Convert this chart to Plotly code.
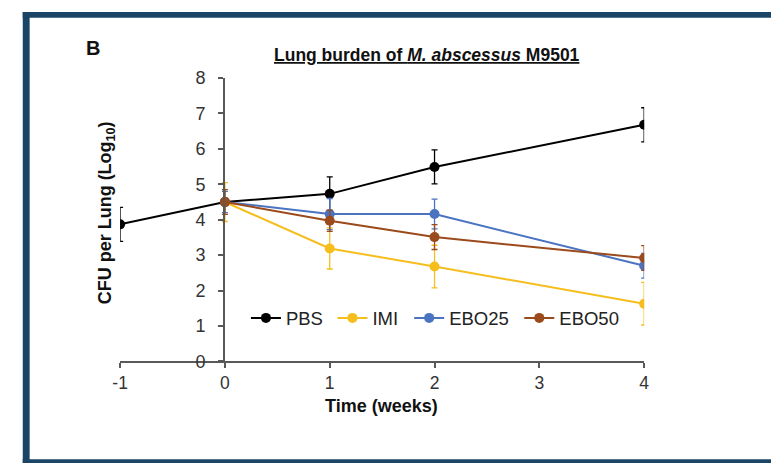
import plotly.graph_objects as go

# Lung CFU (log10) over time per treatment group
weeks_pbs = [-1, 0, 1, 2, 4]
pbs = [3.87, 4.50, 4.73, 5.49, 6.68]
pbs_err = [0.48, 0.10, 0.48, 0.48, 0.48]

weeks = [0, 1, 2, 4]
imi = [4.50, 3.19, 2.68, 1.63]
imi_err = [0.55, 0.58, 0.60, 0.60]

ebo25 = [4.50, 4.16, 4.16, 2.70]
ebo25_err = [0.30, 0.44, 0.42, 0.35]

ebo50 = [4.50, 3.97, 3.51, 2.92]
ebo50_err = [0.35, 0.30, 0.35, 0.35]

x_ticks = [-1, 0, 1, 2, 3, 4]
x_labels = ["-1", "0", "1", "2", "3", "4"]
y_ticks = [0, 1, 2, 3, 4, 5, 6, 7, 8]

W, H = 776, 473
FONT = "Arial, Liberation Sans, sans-serif"


def px(x):
    return x / W


def py(y):
    return 1 - y / H


# name, x, y, error, colour, legend id, legend left edge (px)
series = [
    ("PBS", weeks_pbs, pbs, pbs_err, "#000000", "legend", 242),
    ("IMI", weeks, imi, imi_err, "#F5BE1C", "legend2", 330),
    ("EBO25", weeks, ebo25, ebo25_err, "#4A74C2", "legend3", 408),
    ("EBO50", weeks, ebo50, ebo50_err, "#9B4A1C", "legend4", 520),
]

fig = go.Figure()
legend_layout = {}
for name, xs, ys, errs, color, leg, lx in series:
    fig.add_trace(go.Scatter(
        x=xs, y=ys, name=name, mode="lines+markers", legend=leg,
        line=dict(color=color, width=2),
        marker=dict(color=color, size=10),
        error_y=dict(type="data", array=errs, visible=True,
                     color=color, thickness=1.3, width=3),
    ))
    legend_layout[leg] = dict(
        orientation="h", x=px(lx), y=py(322), xanchor="left",
        yanchor="middle", font=dict(size=18.5, color="#222222"),
        bgcolor="rgba(0,0,0,0)", itemwidth=30,
    )

fig.update_layout(
    width=W, height=H,
    margin=dict(l=0, r=0, t=0, b=0),
    paper_bgcolor="white", plot_bgcolor="white",
    font=dict(family=FONT, size=18, color="#333333"),
    showlegend=True,
    xaxis=dict(domain=[px(114), px(647)], range=[-1, 4],
               tickvals=x_ticks, ticktext=x_labels, ticks="outside",
               ticklen=5, tickwidth=1.5,
               tickcolor="#595959", showline=True, linecolor="#595959",
               linewidth=1.5, showgrid=False, zeroline=False,
               tickfont=dict(size=17.5, color="#333333"), anchor="y"),
    yaxis=dict(domain=[py(367), py(71)], range=[0, 8],
               tickvals=y_ticks, ticks="outside", ticklen=5, tickwidth=1.5,
               ticklabelstandoff=9,
               tickcolor="#595959", showline=True, linecolor="#595959",
               linewidth=1.5, showgrid=False, zeroline=False,
               tickfont=dict(size=18, color="#333333"),
               anchor="free", position=px(219.5)),
    **legend_layout,
)

annotations = [
    dict(text="<b><u>Lung burden of <i>M. abscessus</i> M9501</u></b>",
         x=px(426), y=py(47), font=dict(size=17.5, color="#111111")),
    dict(text="<b>B</b>", x=px(86), y=py(40), font=dict(size=20, color="#111111")),
    dict(text="<b>Time (weeks)</b>", x=px(380), y=py(414),
         font=dict(size=18, color="#111111")),
    dict(text="<b>CFU per Lung (Log<sub>10</sub>)</b>", x=px(100), y=py(212),
         textangle=-90, font=dict(size=18, color="#111111")),
]
for a in annotations:
    fig.add_annotation(xref="paper", yref="paper", showarrow=False,
                       xanchor="center", yanchor="middle", **a)

# dark frame along the left, top and bottom edges
frame = "#1B4566"
for x0, y0, x1, y1 in [(15, 2, 22, 473), (15, 2, W, 8), (15, 469, W, 473)]:
    fig.add_shape(type="rect", xref="paper", yref="paper",
                  x0=px(x0), x1=px(x1), y0=py(y1), y1=py(y0),
                  fillcolor=frame, line=dict(width=0), layer="above")

fig.write_html(
    "out.html",
    post_script="document.body.style.margin='0';document.body.style.overflow='hidden';",
)
